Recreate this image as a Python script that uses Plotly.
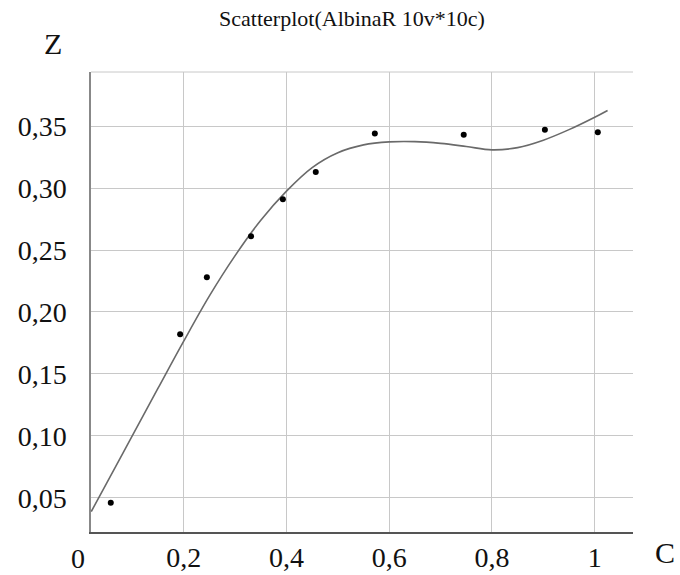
import plotly.graph_objects as go

# Scatter data (C, Z)
c_vals = [0.058, 0.193, 0.245, 0.331, 0.393, 0.457, 0.572, 0.745, 0.903, 1.006]
z_vals = [0.046, 0.182, 0.228, 0.261, 0.291, 0.313, 0.344, 0.343, 0.347, 0.345]

# Fitted curve
curve_c = [0.020, 0.050, 0.100, 0.150, 0.200, 0.250, 0.300, 0.350, 0.400, 0.450,
           0.500, 0.550, 0.600, 0.650, 0.700, 0.750, 0.800, 0.850, 0.900, 0.950,
           1.000, 1.025]
curve_z = [0.0390, 0.0620, 0.1002, 0.1385, 0.1765, 0.2130, 0.2455, 0.2740, 0.2975, 0.3165,
           0.3285, 0.3348, 0.3372, 0.3374, 0.3360, 0.3335, 0.3308, 0.3326, 0.3386, 0.3471,
           0.3571, 0.3626]

x_tick_vals = [0.2, 0.4, 0.6, 0.8, 1.0]
x_tick_text = ["0,2", "0,4", "0,6", "0,8", "1"]
y_tick_vals = [0.05, 0.10, 0.15, 0.20, 0.25, 0.30, 0.35]
y_tick_text = ["0,05", "0,10", "0,15", "0,20", "0,25", "0,30", "0,35"]

SERIF = "Liberation Serif, Times New Roman, serif"

L, R, T, B = 91, 633, 72, 532
PW, PH = R - L, B - T

fig = go.Figure()
fig.add_trace(go.Scatter(
    x=curve_c, y=curve_z, mode="lines",
    line=dict(color="#6a6a6a", width=1.6, shape="spline", smoothing=1.0),
    hoverinfo="skip", showlegend=False,
))
fig.add_trace(go.Scatter(
    x=c_vals, y=z_vals, mode="markers",
    marker=dict(color="black", size=6),
    showlegend=False,
))

fig.update_layout(
    width=680, height=575,
    margin=dict(l=L, r=680 - R, t=T, b=575 - B, autoexpand=False),
    paper_bgcolor="white", plot_bgcolor="white",
    title=dict(text="Scatterplot(AlbinaR 10v*10c)", xref="container", x=352 / 680,
               y=1 - 18 / 575, xanchor="center", yanchor="middle",
               font=dict(family=SERIF, size=22, color="#111")),
    xaxis=dict(range=[0.0195, 1.0745], tickvals=x_tick_vals, ticktext=x_tick_text,
               showgrid=True, gridcolor="#c8c8c8", gridwidth=1,
               showline=True, linecolor="#555", linewidth=1.5,
               zeroline=False, ticks="", ticklabelstandoff=0, automargin=False,
               tickfont=dict(family=SERIF, size=28, color="#111")),
    yaxis=dict(range=[0.0225, 0.3936], tickvals=y_tick_vals, ticktext=y_tick_text,
               showgrid=True, gridcolor="#c8c8c8", gridwidth=1,
               showline=True, linecolor="#888", linewidth=1.5,
               zeroline=False, ticks="", ticklabelstandoff=17, automargin=False,
               tickfont=dict(family=SERIF, size=28, color="#111")),
    shapes=[dict(type="line", xref="paper", yref="paper", x0=0, x1=1, y0=1, y1=1,
                 line=dict(color="#c8c8c8", width=1))],
    annotations=[
        dict(text="Z", xref="paper", yref="paper", x=(53 - L) / PW, y=(B - 43) / PH,
             showarrow=False, xanchor="center", yanchor="middle",
             font=dict(family=SERIF, size=30, color="#111")),
        dict(text="C", xref="paper", yref="paper", x=(665 - L) / PW, y=(B - 552) / PH,
             showarrow=False, xanchor="center", yanchor="middle",
             font=dict(family=SERIF, size=30, color="#111")),
        dict(text="0", xref="paper", yref="paper", x=(78 - L) / PW, y=(B - 558) / PH,
             showarrow=False, xanchor="center", yanchor="middle",
             font=dict(family=SERIF, size=28, color="#111")),
    ],
)

fig.write_html("out.html", config={"displayModeBar": False},
               post_script="document.body.style.margin='0';")
